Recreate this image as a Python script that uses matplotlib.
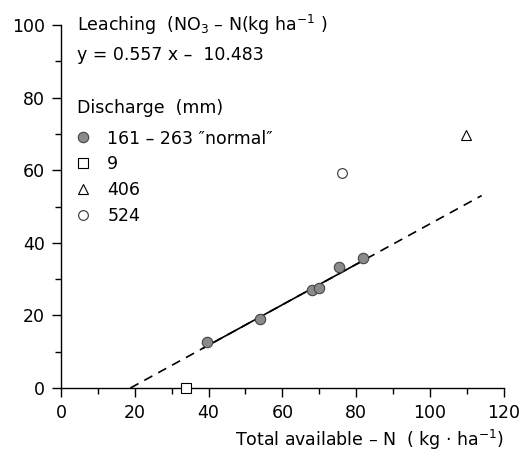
import matplotlib.pyplot as plt
import numpy as np
from matplotlib.lines import Line2D
from matplotlib.ticker import MultipleLocator

# Data
normal_x = [39.6, 53.9, 68.1, 70.0, 75.3, 81.8]
normal_y = [12.6, 18.9, 27.0, 27.5, 33.2, 35.9]
dry_x, dry_y = [33.8], [0.0]          # discharge 9 mm
wet_x, wet_y = [109.8], [69.7]        # discharge 406 mm
vwet_x, vwet_y = [76.2], [59.3]       # discharge 524 mm

slope = 0.557
intercept = -10.483
dash_end = 114

plt.rcParams['font.family'] = ['DejaVu Sans']
plt.rcParams['mathtext.fontset'] = 'dejavusans'

fig = plt.figure(figsize=(5.21, 4.59), dpi=100)
ax = fig.add_axes([0.117, 0.1547, 0.850, 0.7908])

# regression line: dashed extrapolation + solid over the normal range
x0 = -intercept / slope
xd = np.array([x0, dash_end])
ax.plot(xd, slope * xd + intercept, color='black', lw=1.2, ls=(0, (5.5, 4)), zorder=2)
xs = np.array([min(normal_x) - 1, max(normal_x)])
ax.plot(xs, slope * xs + intercept, color='black', lw=1.2, zorder=3)

ax.plot(normal_x, normal_y, 'o', ms=7.5, mfc='#8a8a8a', mec='#444444', mew=0.8, zorder=4)
ax.plot(dry_x, dry_y, 's', ms=6.5, mfc='white', mec='black', mew=0.8, zorder=4, clip_on=False)
ax.plot(wet_x, wet_y, '^', ms=6.5, mfc='white', mec='black', mew=0.8, zorder=4)
ax.plot(vwet_x, vwet_y, 'o', ms=7, mfc='white', mec='#333333', mew=0.8, zorder=4)

ax.set_xlim(0, 120)
ax.set_ylim(0, 100)
ax.xaxis.set_major_locator(MultipleLocator(20))
ax.xaxis.set_minor_locator(MultipleLocator(10))
ax.yaxis.set_major_locator(MultipleLocator(20))
ax.yaxis.set_minor_locator(MultipleLocator(10))
ax.spines['top'].set_visible(False)
ax.spines['right'].set_visible(False)
ax.spines['left'].set_linewidth(1.0)
ax.spines['bottom'].set_linewidth(1.0)
ax.tick_params(which='major', length=6.5, width=1.0, labelsize=12.5, pad=5)
ax.tick_params(which='minor', length=4, width=1.0)

ax.set_xlabel('Total available – N  ( kg · ha$^{-1}$)', loc='right', fontsize=12.5, labelpad=4)

ax.text(4.3, 100, 'Leaching  (NO$_3$ – N(kg ha$^{-1}$ )', fontsize=12.5, va='center', ha='left')
ax.text(4.3, 91.7, 'y = 0.557 x –  10.483', fontsize=12.5, va='center', ha='left')
ax.text(4.3, 77.1, 'Discharge  (mm)', fontsize=12.5, va='center', ha='left')

handles = [
    Line2D([], [], ls='none', marker='o', ms=7.5, mfc='#8a8a8a', mec='#444444', mew=0.8),
    Line2D([], [], ls='none', marker='s', ms=6.5, mfc='white', mec='black', mew=0.8),
    Line2D([], [], ls='none', marker='^', ms=6.5, mfc='white', mec='black', mew=0.8),
    Line2D([], [], ls='none', marker='o', ms=7, mfc='white', mec='#333333', mew=0.8),
]
labels = ['161 – 263 \u2033normal\u2033', '9', '406', '524']
ax.legend(handles, labels, loc='upper left',
          bbox_to_anchor=(0.030, 0.712), frameon=False, fontsize=12.5,
          handlelength=1.0, handletextpad=0.9,
          labelspacing=0.45, borderpad=0, borderaxespad=0)

fig.savefig('out.png', dpi=100)
